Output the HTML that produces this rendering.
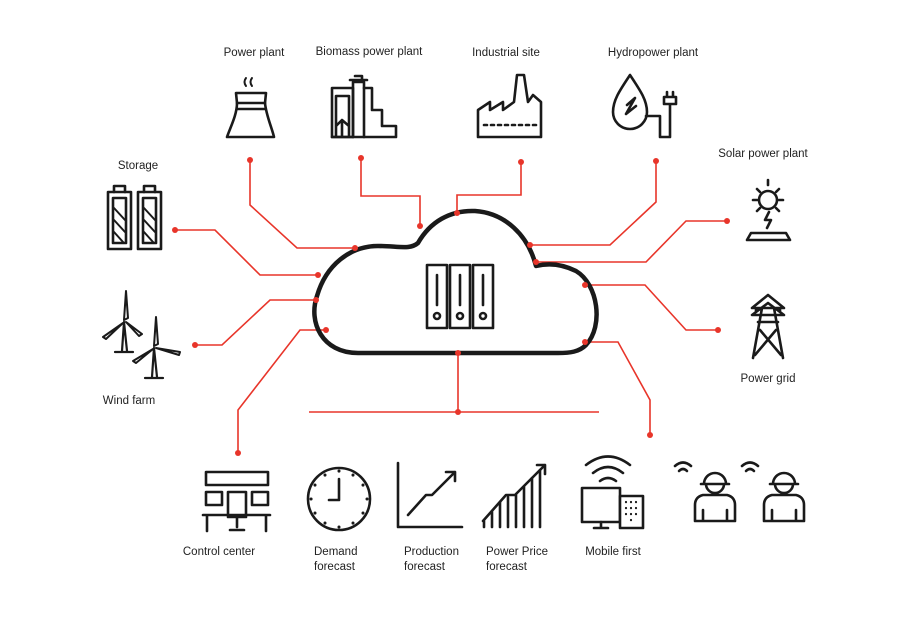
<!DOCTYPE html>
<html><head><meta charset="utf-8"><style>
html,body{margin:0;padding:0;background:#fff;}
svg{display:block}
text{font-family:"Liberation Sans",sans-serif;font-size:11.5px;fill:#222}
</style></head><body>
<svg width="918" height="618" viewBox="0 0 918 618" xmlns="http://www.w3.org/2000/svg">
<g stroke="#e8352a" stroke-width="1.6" fill="none">
<polyline points="250,160 250,205 297,248 355,248"/>
<polyline points="361,158 361,196 420,196 420,226"/>
<polyline points="521,162 521,195 457,195 457,213"/>
<polyline points="656,161 656,202 610,245 530,245"/>
<polyline points="727,221 686,221 646,262 536,262"/>
<polyline points="718,330 686,330 645,285 585,285"/>
<polyline points="585,342 618,342 650,400 650,435"/>
<polyline points="175,230 215,230 260,275 318,275"/>
<polyline points="195,345 222,345 270,300 316,300"/>
<polyline points="326,330 300,330 238,410 238,453"/>
<polyline points="458,353 458,412"/>
<line x1="309" y1="412" x2="599" y2="412"/>
</g>
<path d="M358,353 C322,353 308,322 317,296 C326,265 350,246 378,246 C398,246 410,250 418,243 C430,222 450,210 475,211 C505,213 528,235 536,266 C548,263 562,264 576,271 C598,284 604,326 586,345 C579,352 570,353 558,353 Z" fill="none" stroke="#1a1a1a" stroke-width="4.5" stroke-linejoin="round"/>
<g fill="#e8352a">
<circle cx="250" cy="160" r="3"/><circle cx="361" cy="158" r="3"/><circle cx="521" cy="162" r="3"/><circle cx="656" cy="161" r="3"/>
<circle cx="727" cy="221" r="3"/><circle cx="718" cy="330" r="3"/><circle cx="650" cy="435" r="3"/><circle cx="175" cy="230" r="3"/>
<circle cx="195" cy="345" r="3"/><circle cx="238" cy="453" r="3"/><circle cx="458" cy="412" r="3"/>
<circle cx="355" cy="248" r="3"/><circle cx="420" cy="226" r="3"/><circle cx="457" cy="213" r="3"/><circle cx="530" cy="245" r="3"/>
<circle cx="536" cy="262" r="3"/><circle cx="585" cy="285" r="3"/><circle cx="585" cy="342" r="3"/><circle cx="318" cy="275" r="3"/>
<circle cx="316" cy="300" r="3"/><circle cx="326" cy="330" r="3"/><circle cx="458" cy="353" r="3"/>
</g>
<g fill="none" stroke="#1a1a1a" stroke-width="2.6" stroke-linejoin="round" stroke-linecap="round">
<rect x="427" y="265" width="20" height="63"/><rect x="450" y="265" width="20" height="63"/><rect x="473" y="265" width="20" height="63"/>
<line x1="437" y1="275" x2="437" y2="305"/><line x1="460" y1="275" x2="460" y2="305"/><line x1="483" y1="275" x2="483" y2="305"/>
<circle cx="437" cy="316" r="3"/><circle cx="460" cy="316" r="3"/><circle cx="483" cy="316" r="3"/>
<path d="M236,93 L266,93 L265,103 C266,115 272,128 274,137 L227,137 C230,128 237,115 237,103 Z"/>
<line x1="237" y1="103" x2="265" y2="103"/><line x1="237" y1="109" x2="265" y2="109"/>
<path d="M246,78 Q243,82 246,86 M252,78 Q249,82 252,86" stroke-width="2"/>
<path d="M332,137 L332,88 L353,88 L353,137 Z M336,96 L349,96 L349,137 M336,96 L336,137 M336,126 L342,120 L349,126 M342,120 L342,137"/>
<path d="M353,137 L353,82 L364,82 L364,137 M350,80 L367,80 M355,76 L362,76 L362,80"/>
<path d="M364,88 L372,88 L372,110 L382,110 L382,126 L396,126 L396,137 L332,137"/>
<path d="M478,137 L478,110 L490,102 L490,110 L503,102 L503,110 L514,102 L517,75 L524,75 L528,102 L533,95 L541,102 L541,137 Z"/>
<line x1="484" y1="125" x2="536" y2="125" stroke-dasharray="3,4"/>
<path d="M630,75 C620,90 613,100 613,112 A17,17 0 0 0 647,112 C647,100 640,90 630,75 Z"/>
<path d="M627,105 L635,98 L626,114 L636,106"/>
<path d="M646,116 L660,116 L660,137 L670,137 L670,104 M664,97 L676,97 L676,104 L664,104 Z M667,92 L667,97 M673,92 L673,97"/>
<rect x="108" y="192" width="23" height="57"/><rect x="138" y="192" width="23" height="57"/>
<path d="M114,192 L114,186 L125,186 L125,192 M144,192 L144,186 L155,186 L155,192"/>
<rect x="113" y="198" width="13" height="45"/><rect x="143" y="198" width="13" height="45"/>
<path d="M114,208 L125,220 M114,220 L125,232 M114,232 L123,242 M144,208 L155,220 M144,220 L155,232 M144,232 L153,242" stroke-width="2"/>
<circle cx="768" cy="200" r="9"/>
<path d="M768,180 L768,185 M753,200 L757,200 M779,200 L783,200 M757,189 L760,192 M779,189 L776,192 M757,211 L760,208 M779,211 L776,208"/>
<path d="M769,212 L765,220 L771,220 L767,228"/>
<path d="M747,240 L751,233 L786,233 L790,240 Z"/>
<path d="M768,295 L752,308 L784,308 Z M752,315 L784,315 L768,303 Z M756,308 L756,312 M780,308 L780,312 M758,322 L778,322 M762,308 L753,358 M774,308 L783,358 M760,330 L781,355 M776,330 L755,355"/>
<path d="M122,351 L124,322 L127,351 M115,352 L133,352" stroke-width="2.2"/>
<path d="M124,320 L126,291 L128,318 Z M123,323 L103,337 L106,339 Z M126,322 L142,334 L139,336 Z" stroke-width="2"/>
<path d="M152,377 L154,348 L157,377 M145,378 L163,378" stroke-width="2.2"/>
<path d="M154,346 L156,317 L158,344 Z M153,349 L133,361 L136,363 Z M156,348 L180,352 L179,355 Z" stroke-width="2"/>
<rect x="206" y="472" width="62" height="13"/>
<rect x="206" y="492" width="16" height="13"/><rect x="252" y="492" width="16" height="13"/>
<rect x="228" y="492" width="18" height="25"/>
<path d="M203,515 L270,515 M207,515 L207,531 M266,515 L266,531 M237,517 L237,527 M230,530 L244,530"/>
<circle cx="339" cy="499" r="31"/>
<path d="M339,479 L339,500 L329,500"/>
<g stroke-width="3"><path d="M339,471 l0,.1 M339,527 l0,.1 M311,499 l.1,0 M367,499 l.1,0 M325,475 l0,.1 M353,475 l0,.1 M325,523 l0,.1 M353,523 l0,.1 M315,485 l0,.1 M363,485 l0,.1 M315,513 l0,.1 M363,513 l0,.1"/></g>
<path d="M398,463 L398,527 L462,527"/>
<path d="M408,515 L426,495 L432,495 L455,472 M446,472 L455,472 L455,481"/>
<path d="M483,521 L506,495 L515,495 L545,465 M537,465 L545,465 L545,474"/>
<path d="M484,527 L484,521 M492,527 L492,512 M500,527 L500,502 M508,527 L508,497 M516,527 L516,495 M524,527 L524,487 M532,527 L532,478 M540,527 L540,470"/>
<path d="M586,465 Q608,448 630,465 M593,473 Q608,461 623,473 M600,481 Q608,475 616,481"/>
<rect x="582" y="488" width="38" height="34"/>
<path d="M601,522 L601,528 M594,528 L608,528"/>
<rect x="620" y="496" width="23" height="32" fill="#fff"/>
<g stroke-width="2.2"><path d="M626,502 l0,.1 M631,502 l0,.1 M636,502 l0,.1 M626,508 l0,.1 M631,508 l0,.1 M636,508 l0,.1 M626,514 l0,.1 M631,514 l0,.1 M636,514 l0,.1 M631,520 l0,.1"/></g>
<path d="M675,466 Q683,459 691,466 M679,471 Q683,467 687,471 M742,466 Q750,459 758,466 M746,471 Q750,467 754,471"/>
<path d="M704,484 A11,11 0 0 1 726,484 M701,484 L729,484 M706,484 A9,9 0 0 0 724,484 M695,521 L695,505 Q695,497 703,495 L727,495 Q735,497 735,505 L735,521 Z M703,510 L703,521 M727,510 L727,521"/>
<path d="M773,484 A11,11 0 0 1 795,484 M770,484 L798,484 M775,484 A9,9 0 0 0 793,484 M764,521 L764,505 Q764,497 772,495 L796,495 Q804,497 804,505 L804,521 Z M772,510 L772,521 M796,510 L796,521"/>
</g>
<g text-anchor="middle">
<text x="254" y="56">Power plant</text>
<text x="369" y="55">Biomass power plant</text>
<text x="506" y="56">Industrial site</text>
<text x="653" y="56">Hydropower plant</text>
<text x="138" y="169">Storage</text>
<text x="763" y="157">Solar power plant</text>
<text x="768" y="382">Power grid</text>
<text x="129" y="404">Wind farm</text>
<text x="219" y="555">Control center</text>
<text x="613" y="555">Mobile first</text>
</g>
<text x="314" y="555">Demand</text><text x="314" y="570">forecast</text>
<text x="404" y="555">Production</text><text x="404" y="570">forecast</text>
<text x="486" y="555">Power Price</text><text x="486" y="570">forecast</text>
</svg>
</body></html>
